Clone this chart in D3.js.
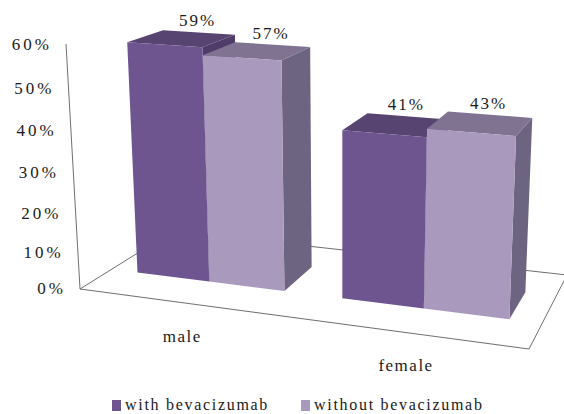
<!DOCTYPE html>
<html>
<head>
<meta charset="utf-8">
<style>
  html, body { margin: 0; padding: 0; background: #fff; }
  svg { display: block; }
  text { font-family: "Liberation Serif", serif; fill: #1a1a1a; }
</style>
<script src="https://cdn.jsdelivr.net/npm/d3@7"></script>
</head>
<body>
<svg id="chart" width="564" height="414"></svg>
<script>
// Chart data
const categories = ["male", "female"];
const seriesNames = ["with bevacizumab", "without bevacizumab"];
const withBevacizumab = [59, 41];
const withoutBevacizumab = [57, 43];
const yTicks = [0, 10, 20, 30, 40, 50, 60];

// Face colours per series
const frontColors = ["#6e5590", "#a999bd"];
const topColors = ["#584470", "#7f7391"];
const sideColors = ["#4f3c69", "#6c6480"];

const svg = d3.select("#chart");

// Floor of the 3D box: corners in screen space, unit-square coordinates (u, w)
const floor = { a: [80, 289], b: [529, 349], c: [567, 275], d: [173, 231] };

// Projective map of the unit square onto the floor quadrilateral
function floorProjection({ a, b, c, d }) {
  const dx1 = b[0] - c[0], dx2 = d[0] - c[0], sx = a[0] - b[0] + c[0] - d[0];
  const dy1 = b[1] - c[1], dy2 = d[1] - c[1], sy = a[1] - b[1] + c[1] - d[1];
  const det = dx1 * dy2 - dx2 * dy1;
  const g = (sx * dy2 - dx2 * sy) / det;
  const h = (dx1 * sy - sx * dy1) / det;
  const m = [
    b[0] - a[0] + g * b[0], d[0] - a[0] + h * d[0], a[0],
    b[1] - a[1] + g * b[1], d[1] - a[1] + h * d[1], a[1]
  ];
  return (u, w) => {
    const z = g * u + h * w + 1;
    return [(m[0] * u + m[1] * w + m[2]) / z, (m[3] * u + m[4] * w + m[5]) / z];
  };
}
const project = floorProjection(floor);

// Vertical edges converge slightly towards a point far below the chart
const verticalVanish = [343, 4890];
const risePerPercent = d3.scaleLinear().domain([267, 319]).range([3.86, 4.26]);

// Lift a floor point to the height of a given percentage
function lift(base, value) {
  const rise = risePerPercent(base[1]) * value;
  const s = rise / (verticalVanish[1] - base[1]);
  return [base[0] - (verticalVanish[0] - base[0]) * s, base[1] - rise];
}

// Bands along the floor width and the bar depth range
const catBand = d3.scaleBand().domain(categories).range([0, 1]);
const seriesBand = d3.scaleBand().domain(seriesNames).paddingOuter(0).paddingInner(0);
const groupInset = 0.0675;
const depth = { front: 0.31, back: 0.685 };

const polyPath = pts => d3.line()(pts) + "Z";
const rows = [withBevacizumab, withoutBevacizumab];

// Floor outline
const axisColor = "#6f6f6f";
const floorLayer = svg.append("g").attr("fill", "none").attr("stroke", axisColor).attr("stroke-width", 1);
floorLayer.append("path").attr("d", polyPath([floor.a, floor.b, floor.c, floor.d]));

// Value wall: a single slanted line; tick spacing tightens slightly towards the floor
const wallValue = d3.scalePow().exponent(1.07).domain([0, 60]).range([288.5, 45]);
const wallX = d3.scaleLinear().domain([0, 60]).range([floor.a[0], 66]);
svg.append("line")
  .attr("x1", wallX(0)).attr("y1", floor.a[1])
  .attr("x2", wallX(60)).attr("y2", 44)
  .attr("stroke", axisColor);

const yAxis = d3.axisLeft(wallValue)
  .tickValues(yTicks)
  .tickSize(0)
  .tickFormat(d => d + "%");
const yAxisG = svg.append("g").call(yAxis);
yAxisG.select(".domain").remove();
yAxisG.selectAll(".tick").attr("transform", d => `translate(${wallX(d) - 14},${wallValue(d)})`);
yAxisG.selectAll("text")
  .attr("x", 0)
  .style("font-family", '"Liberation Serif", serif')
  .style("font-size", "17px")
  .style("letter-spacing", "3px")
  .attr("fill", "#1a1a1a");

// Bars, drawn left to right so later faces overlap earlier ones
categories.forEach((cat, ci) => {
  const u0 = catBand(cat) + groupInset;
  seriesBand.range([u0, u0 + catBand.bandwidth() - 2 * groupInset]);
  seriesNames.forEach((name, si) => {
    const value = rows[si][ci];
    const uL = seriesBand(name), uR = uL + seriesBand.bandwidth();
    const fl = project(uL, depth.front), fr = project(uR, depth.front);
    const bl = project(uL, depth.back), br = project(uR, depth.back);
    const tfl = lift(fl, value), tfr = lift(fr, value), tbl = lift(bl, value), tbr = lift(br, value);
    const g = svg.append("g");
    g.append("path").attr("d", polyPath([fr, br, tbr, tfr])).attr("fill", sideColors[si]);
    g.append("path").attr("d", polyPath([tfl, tfr, tbr, tbl])).attr("fill", topColors[si]);
    g.append("path").attr("d", polyPath([fl, fr, tfr, tfl])).attr("fill", frontColors[si]);
  });
});

// Value labels sit above the back edge of each bar top
categories.forEach((cat, ci) => {
  const u0 = catBand(cat) + groupInset;
  seriesBand.range([u0, u0 + catBand.bandwidth() - 2 * groupInset]);
  seriesNames.forEach((name, si) => {
    const value = rows[si][ci];
    const uMid = seriesBand(name) + seriesBand.bandwidth() / 2;
    const top = lift(project(uMid, depth.back), value);
    svg.append("text")
      .attr("x", top[0] - 1)
      .attr("y", top[1] - 6)
      .attr("text-anchor", "middle")
      .attr("font-size", 17)
      .attr("letter-spacing", 2)
      .text(value + "%");
  });
});

// Category labels below the front floor edge
categories.forEach(cat => {
  const p = project(catBand(cat) + catBand.bandwidth() / 2, 0);
  svg.append("text")
    .attr("x", p[0] + 1)
    .attr("y", p[1] + 39)
    .attr("text-anchor", "middle")
    .attr("font-size", 17)
    .attr("letter-spacing", 1.5)
    .text(cat);
});

// Legend along the bottom edge
const legendX = d3.scaleOrdinal().domain(seriesNames).range([112, 301]);
const legend = svg.append("g").selectAll("g").data(seriesNames).join("g")
  .attr("transform", d => `translate(${legendX(d)},400)`);
legend.append("rect")
  .attr("width", 9).attr("height", 11)
  .attr("fill", (d, i) => frontColors[i]);
legend.append("text")
  .attr("x", 13).attr("y", 10)
  .attr("font-size", 16)
  .attr("letter-spacing", 1.7)
  .text(d => d);
</script>
</body>
</html>
